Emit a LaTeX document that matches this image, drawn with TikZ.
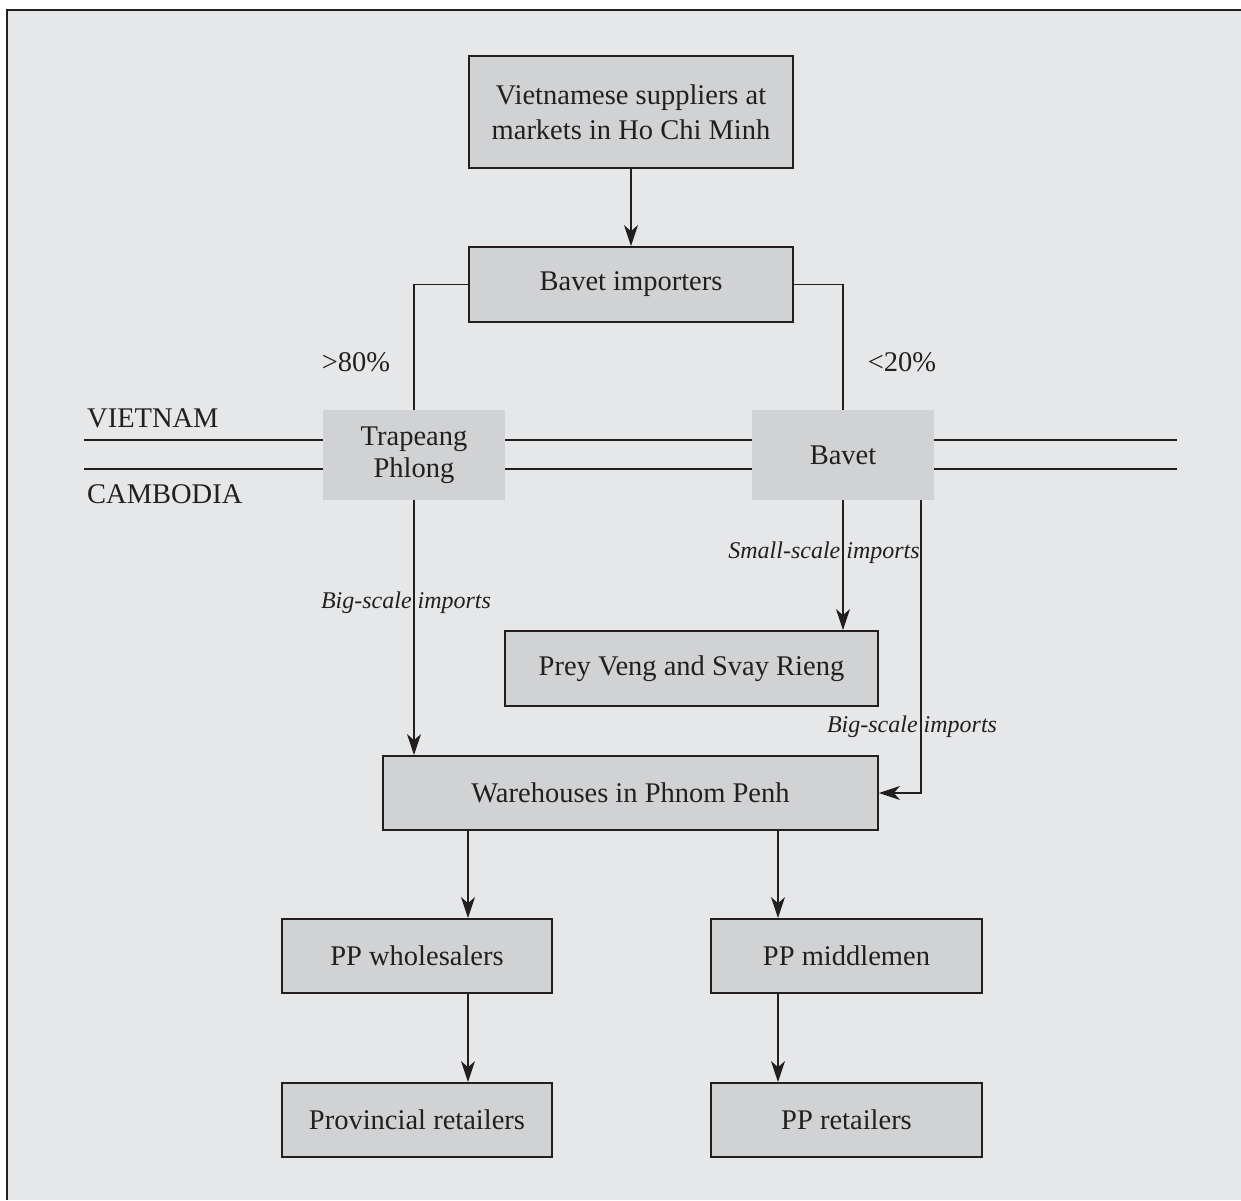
\documentclass[tikz,border=0pt]{standalone}
\usepackage{fontspec}
\setmainfont{Liberation Serif}
\usetikzlibrary{arrows.meta}
\definecolor{panel}{HTML}{E6E7E9}
\definecolor{boxfill}{HTML}{D1D2D4}
\definecolor{ink}{HTML}{231F20}
\tikzset{
  box/.style={draw=ink, line width=1.8pt, fill=boxfill, inner sep=0pt, align=center,
    text=ink, font=\fontsize{28.5}{35}\selectfont},
  postbox/.style={fill=boxfill, inner sep=0pt, align=center,
    text=ink, font=\fontsize{28.5}{32}\selectfont},
  txt/.style={inner sep=0pt, text=ink, font=\fontsize{28.5}{34}\selectfont},
  lbl/.style={inner sep=0pt, text=ink, font=\fontsize{24}{28}\selectfont\itshape},
  link/.style={draw=ink, line width=1.5pt},
  flow/.style={link, -{Stealth[length=21pt, width=14pt, inset=6pt]}},
  border/.style={draw=ink, line width=2pt},
}
\begin{document}
\begin{tikzpicture}[x=1pt, y=-1pt]
\useasboundingbox (0,0) rectangle (1241,1200);
% panel with its top and left rule
\fill[white] (0,0) rectangle (1241,1200);
\fill[panel] (7,10) rectangle (1241,1200);
\draw[draw=ink, line width=2.5pt] (1241,10) -- (7,10) -- (7,1200);

% boxes
\node[box, minimum width=324pt, minimum height=112pt] (sup) at (631,112)
  {Vietnamese suppliers at\\markets in Ho Chi Minh};
\node[box, minimum width=324pt, minimum height=75pt] (imp) at (631,284.5) {Bavet importers};
\node[postbox, minimum width=182pt, minimum height=90pt] (tp) at (414,455) {Trapeang\\Phlong};
\node[postbox, minimum width=182pt, minimum height=90pt] (bv) at (843,455) {Bavet};
\node[box, minimum width=373pt, minimum height=75pt] (pv) at (691.5,668.5) {Prey Veng and Svay Rieng};
\node[box, minimum width=495pt, minimum height=74pt] (wh) at (630.5,793) {Warehouses in Phnom Penh};
\node[box, minimum width=270pt, minimum height=74pt] (ws) at (417,956) {PP wholesalers};
\node[box, minimum width=271pt, minimum height=74pt] (mm) at (846.5,956) {PP middlemen};
\node[box, minimum width=270pt, minimum height=74pt] (pr) at (417,1120) {Provincial retailers};
\node[box, minimum width=271pt, minimum height=74pt] (rt) at (846.5,1120) {PP retailers};

% country labels and border
\node[txt, anchor=base west] (vn) at (87,427) {VIETNAM};
\node[txt, anchor=base west] (kh) at (87,503) {CAMBODIA};
\coordinate (bl1) at (84,440);
\coordinate (bl2) at (84,469);
\coordinate (br1) at (1177,440);
\coordinate (br2) at (1177,469);
\draw[border] (bl1) -- (bl1 -| tp.west) (bl1 -| tp.east) -- (bl1 -| bv.west) (bl1 -| bv.east) -- (br1);
\draw[border] (bl2) -- (bl2 -| tp.west) (bl2 -| tp.east) -- (bl2 -| bv.west) (bl2 -| bv.east) -- (br2);

% shares
\node[txt] (p80) at (356,362) {>80\%};
\node[txt] (p20) at (902,362) {<20\%};

% connectors
\draw[flow] (sup.south) -- (imp.north);
\draw[link] (imp.west) -| (tp.north);
\draw[link] (imp.east) -| (bv.north);
\draw[flow] (tp.south) -- (tp.south |- wh.north);
\draw[flow] (bv.south) -- (bv.south |- pv.north);
\coordinate (bvr) at (921,500);
\draw[flow] (bvr) |- (wh.east);
\coordinate (wl) at (468,830);
\coordinate (wr) at (778,830);
\draw[flow] (wl) -- (wl |- ws.north);
\draw[flow] (wr) -- (wr |- mm.north);
\draw[flow] (wl |- ws.south) -- (wl |- pr.north);
\draw[flow] (wr |- mm.south) -- (wr |- rt.north);

% flow labels
\node[lbl] (bigl) at (406,603) {Big-scale imports};
\node[lbl] (small) at (824,553) {Small-scale imports};
\node[lbl] (bigr) at (912,727) {Big-scale imports};
\end{tikzpicture}
\end{document}
